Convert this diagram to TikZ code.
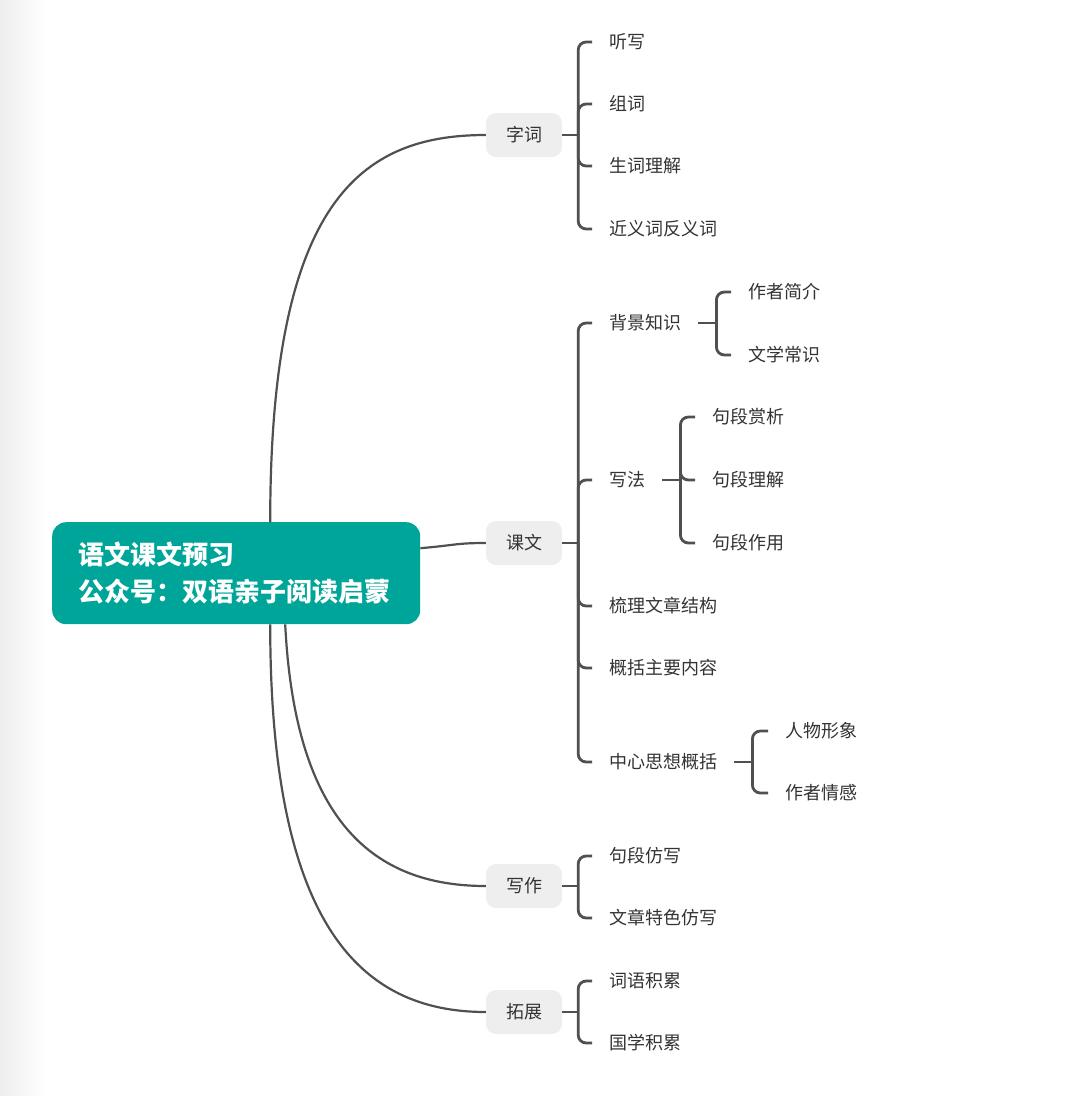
\documentclass[tikz,border=0pt]{standalone}
\usepackage{fontspec}
\setmainfont{Noto Sans CJK SC}
\usetikzlibrary{positioning}
\definecolor{rootteal}{HTML}{00A59A}
\definecolor{boxgray}{HTML}{EEEEEE}
\definecolor{linegray}{HTML}{505050}
\definecolor{txtgray}{HTML}{333333}

\begin{document}
\begin{tikzpicture}[x=1pt,y=-1pt,
  rootbox/.style={fill=rootteal,rounded corners=14pt,text=white,font=\fontsize{26}{37}\selectfont\bfseries,
    align=left,anchor=north west,text width=316pt,minimum height=102pt,inner xsep=26pt},
  topicbox/.style={fill=boxgray,rounded corners=10pt,text=txtgray,font=\fontsize{18}{22}\selectfont,
    minimum height=44pt,inner xsep=20pt},
  leaf/.style={anchor=west,text=txtgray,font=\fontsize{18}{22}\selectfont,inner xsep=17pt,inner ysep=4pt},
  trunk/.style={draw=linegray,line width=2.2pt},
  brace/.style={draw=linegray,line width=2.8pt,rounded corners=8pt}]
\useasboundingbox (0,0) rectangle (1080,1096);
\shade[left color=black!7,right color=white] (0,0) rectangle (45,1096);

% root and main topics
\node[rootbox] (root) at (52,522) {语文课文预习\\公众号：双语亲子阅读启蒙};
\node[topicbox] (zici) at (524,135) {字词};
\node[topicbox] (kewen) at (524,543) {课文};
\node[topicbox] (xiezuo) at (524,886) {写作};
\node[topicbox] (tuozhan) at (524,1012) {拓展};

\draw[trunk] ([xshift=34pt]root.north) .. controls +(0,-320) and +(-126,0) .. (zici.west);
\draw[trunk] ([yshift=25pt]root.east) .. controls +(35,-3) and +(-30,0) .. (kewen.west);
\draw[trunk] ([xshift=49pt]root.south) .. controls +(10,200) and +(-110,0) .. (xiezuo.west);
\draw[trunk] ([xshift=34pt]root.south) .. controls +(0,300) and +(-126,0) .. (tuozhan.west);

% leaves
\node[leaf] (tingxie) at (592,42) {听写};
\node[leaf] (zuci) at (592,104) {组词};
\node[leaf] (shengci) at (592,166) {生词理解};
\node[leaf] (jinyi) at (592,229) {近义词反义词};

\node[leaf] (beijing) at (592,323) {背景知识};
\node[leaf] (xiefa) at (592,480) {写法};
\node[leaf] (shuli) at (592,606) {梳理文章结构};
\node[leaf] (gaikuo) at (592,668) {概括主要内容};
\node[leaf] (zhongxin) at (592,762) {中心思想概括};

\node[leaf] (zuozhe) at (731,292) {作者简介};
\node[leaf] (changshi) at (731,355) {文学常识};
\node[leaf] (shangxi) at (695,417) {句段赏析};
\node[leaf] (lijie) at (695,480) {句段理解};
\node[leaf] (zuoyong) at (695,543) {句段作用};
\node[leaf] (renwu) at (768,731) {人物形象};
\node[leaf] (qinggan) at (768,793) {作者情感};

\node[leaf] (fangxie) at (592,856) {句段仿写};
\node[leaf] (tese) at (592,918) {文章特色仿写};
\node[leaf] (ciyu) at (592,981) {词语积累};
\node[leaf] (guoxue) at (592,1043) {国学积累};

% brackets
\coordinate (zs) at ([xshift=16pt]zici.east);
\coordinate (ks) at ([xshift=16pt]kewen.east);
\coordinate (xs) at ([xshift=16pt]xiezuo.east);
\coordinate (ts) at ([xshift=16pt]tuozhan.east);
\coordinate (bs) at ([xshift=18pt]beijing.east);
\coordinate (fs) at ([xshift=18pt]xiefa.east);
\coordinate (cs) at ([xshift=18pt]zhongxin.east);

\draw[brace] (zici.east) -- (zs);
\foreach \c in {tingxie,zuci,shengci,jinyi} \draw[brace] (zs) |- (\c.west);
\draw[brace] (kewen.east) -- (ks);
\foreach \c in {beijing,xiefa,shuli,gaikuo,zhongxin} \draw[brace] (ks) |- (\c.west);
\draw[brace] (xiezuo.east) -- (xs);
\foreach \c in {fangxie,tese} \draw[brace] (xs) |- (\c.west);
\draw[brace] (tuozhan.east) -- (ts);
\foreach \c in {ciyu,guoxue} \draw[brace] (ts) |- (\c.west);

\draw[brace] (beijing.east) -- (bs);
\foreach \c in {zuozhe,changshi} \draw[brace] (bs) |- (\c.west);
\draw[brace] (xiefa.east) -- (fs);
\foreach \c in {shangxi,lijie,zuoyong} \draw[brace] (fs) |- (\c.west);
\draw[brace] (zhongxin.east) -- (cs);
\foreach \c in {renwu,qinggan} \draw[brace] (cs) |- (\c.west);
\end{tikzpicture}
\end{document}
